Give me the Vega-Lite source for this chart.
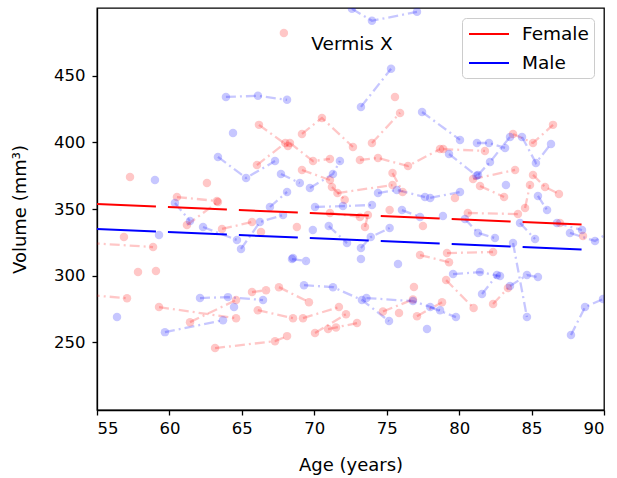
{
  "$schema": "https://vega.github.io/schema/vega-lite/v6.json",
  "width": 507,
  "height": 402,
  "autosize": {"type": "none"},
  "padding": {"left": 97, "top": 8, "right": 13, "bottom": 68},
  "background": "white",
  "config": {
    "view": {"stroke": "black", "strokeWidth": 1.3},
    "font": "DejaVu Sans",
    "axis": {
      "grid": false,
      "domainColor": "black",
      "domainWidth": 1.3,
      "tickColor": "black",
      "tickWidth": 1.3,
      "tickSize": 5,
      "labelColor": "black",
      "labelFont": "DejaVu Sans",
      "labelFontSize": 16.5,
      "titleFont": "DejaVu Sans",
      "titleFontSize": 18,
      "titleFontWeight": "normal",
      "titleColor": "black"
    },
    "legend": {
      "orient": "none",
      "legendX": 365,
      "legendY": 10,
      "symbolType": "M-2,0L2,0",
      "symbolSize": 400,
      "symbolOffset": 11,
      "symbolStrokeWidth": 2,
      "labelFont": "DejaVu Sans",
      "labelFontSize": 18.5,
      "labelColor": "black",
      "labelOffset": 22,
      "rowPadding": 8,
      "padding": 5,
      "strokeColor": "#cccccc",
      "fillColor": "white",
      "cornerRadius": 4
    }
  },
  "data": {
    "values": [
      {"id": "F1", "sex": "Female", "age": 54.5, "vol": 324.4}, {"id": "F1", "sex": "Female", "age": 58.87, "vol": 321.4},
      {"id": "F2", "sex": "Female", "age": 54.5, "vol": 285.3}, {"id": "F2", "sex": "Female", "age": 57.07, "vol": 283},
      {"id": "F3", "sex": "Female", "age": 56.86, "vol": 329},
      {"id": "F4", "sex": "Female", "age": 57.28, "vol": 374},
      {"id": "F5", "sex": "Female", "age": 57.83, "vol": 302.6},
      {"id": "F6", "sex": "Female", "age": 59.07, "vol": 303.4},
      {"id": "F7", "sex": "Female", "age": 59.28, "vol": 276.3}, {"id": "F7", "sex": "Female", "age": 64.6, "vol": 268},
      {"id": "F8", "sex": "Female", "age": 61.42, "vol": 265}, {"id": "F8", "sex": "Female", "age": 64.6, "vol": 281.6},
      {"id": "F9", "sex": "Female", "age": 63.15, "vol": 245.5}, {"id": "F9", "sex": "Female", "age": 67.29, "vol": 250.7}, {"id": "F9", "sex": "Female", "age": 68.12, "vol": 254.5},
      {"id": "F12", "sex": "Female", "age": 65.7, "vol": 287.6}, {"id": "F12", "sex": "Female", "age": 66.67, "vol": 289},
      {"id": "F13", "sex": "Female", "age": 67.56, "vol": 291.3}, {"id": "F13", "sex": "Female", "age": 69.63, "vol": 280},
      {"id": "F14", "sex": "Female", "age": 66.1, "vol": 274}, {"id": "F14", "sex": "Female", "age": 68.53, "vol": 268},
      {"id": "F15", "sex": "Female", "age": 69.22, "vol": 268}, {"id": "F15", "sex": "Female", "age": 71.7, "vol": 276.3},
      {"id": "F16", "sex": "Female", "age": 70.05, "vol": 256.8}, {"id": "F16", "sex": "Female", "age": 72.19, "vol": 271},
      {"id": "F17", "sex": "Female", "age": 70.95, "vol": 259.8}, {"id": "F17", "sex": "Female", "age": 72.95, "vol": 264.3},
      {"id": "F18", "sex": "Female", "age": 71.5, "vol": 261},
      {"id": "F20", "sex": "Female", "age": 60.52, "vol": 359}, {"id": "F20", "sex": "Female", "age": 63.28, "vol": 356},
      {"id": "F21", "sex": "Female", "age": 62.59, "vol": 369.5},
      {"id": "F22", "sex": "Female", "age": 61.21, "vol": 338}, {"id": "F22", "sex": "Female", "age": 63.35, "vol": 355.3},
      {"id": "F23", "sex": "Female", "age": 63.63, "vol": 335}, {"id": "F23", "sex": "Female", "age": 65.7, "vol": 340.2},
      {"id": "F24", "sex": "Female", "age": 66.32, "vol": 332.7},
      {"id": "F25", "sex": "Female", "age": 66.04, "vol": 383}, {"id": "F25", "sex": "Female", "age": 68.0, "vol": 399.6},
      {"id": "F26", "sex": "Female", "age": 66.18, "vol": 413.2}, {"id": "F26", "sex": "Female", "age": 68.18, "vol": 397.4},
      {"id": "F27", "sex": "Female", "age": 69.15, "vol": 406.4}, {"id": "F27", "sex": "Female", "age": 70.53, "vol": 418.4}, {"id": "F27", "sex": "Female", "age": 72.67, "vol": 396.6},
      {"id": "F28", "sex": "Female", "age": 68.32, "vol": 399.6}, {"id": "F28", "sex": "Female", "age": 69.91, "vol": 386}, {"id": "F28", "sex": "Female", "age": 71.08, "vol": 387.6},
      {"id": "F29", "sex": "Female", "age": 73.15, "vol": 386.8}, {"id": "F29", "sex": "Female", "age": 74.4, "vol": 388.3}, {"id": "F29", "sex": "Female", "age": 76.47, "vol": 382.3}, {"id": "F29", "sex": "Female", "age": 78.68, "vol": 395},
      {"id": "F30", "sex": "Female", "age": 73.98, "vol": 399.6}, {"id": "F30", "sex": "Female", "age": 75.92, "vol": 422.2},
      {"id": "F31", "sex": "Female", "age": 75.57, "vol": 434.2},
      {"id": "F32", "sex": "Female", "age": 67.9, "vol": 482.3},
      {"id": "F33", "sex": "Female", "age": 68.8, "vol": 336.5},
      {"id": "F34", "sex": "Female", "age": 78.9, "vol": 395}, {"id": "F34", "sex": "Female", "age": 81.78, "vol": 393.6},
      {"id": "F35", "sex": "Female", "age": 80.96, "vol": 372.5}, {"id": "F35", "sex": "Female", "age": 83.86, "vol": 379.3},
      {"id": "F36", "sex": "Female", "age": 83.72, "vol": 406.4}, {"id": "F36", "sex": "Female", "age": 85.1, "vol": 399.6}, {"id": "F36", "sex": "Female", "age": 86.48, "vol": 413.2},
      {"id": "F37", "sex": "Female", "age": 85.1, "vol": 375.6}, {"id": "F37", "sex": "Female", "age": 85.93, "vol": 366.5}, {"id": "F37", "sex": "Female", "age": 86.89, "vol": 361.3},
      {"id": "F38", "sex": "Female", "age": 81.44, "vol": 367.3}, {"id": "F38", "sex": "Female", "age": 83.1, "vol": 359},
      {"id": "F39", "sex": "Female", "age": 79.71, "vol": 358.3},
      {"id": "F40", "sex": "Female", "age": 84.55, "vol": 350.7}, {"id": "F40", "sex": "Female", "age": 84.89, "vol": 368},
      {"id": "F41", "sex": "Female", "age": 80.6, "vol": 347}, {"id": "F41", "sex": "Female", "age": 84.06, "vol": 346.2},
      {"id": "F41b", "sex": "Female", "age": 86.96, "vol": 339.5},
      {"id": "F42", "sex": "Female", "age": 79.16, "vol": 316.9}, {"id": "F42", "sex": "Female", "age": 82.34, "vol": 317.7},
      {"id": "F43", "sex": "Female", "age": 77.3, "vol": 315.4}, {"id": "F43", "sex": "Female", "age": 79.3, "vol": 310},
      {"id": "F44", "sex": "Female", "age": 76.88, "vol": 291.4},
      {"id": "F45", "sex": "Female", "age": 74.74, "vol": 273}, {"id": "F45", "sex": "Female", "age": 76.81, "vol": 282},
      {"id": "F46", "sex": "Female", "age": 75.85, "vol": 271.8},
      {"id": "F47", "sex": "Female", "age": 77.09, "vol": 269.5}, {"id": "F47", "sex": "Female", "age": 78.82, "vol": 280},
      {"id": "F48", "sex": "Female", "age": 79.1, "vol": 296.6}, {"id": "F48", "sex": "Female", "age": 81.0, "vol": 275.6},
      {"id": "F49", "sex": "Female", "age": 82.34, "vol": 278.6}, {"id": "F49", "sex": "Female", "age": 83.37, "vol": 290.6},
      {"id": "F50", "sex": "Female", "age": 88.55, "vol": 329.7},
      {"id": "F51", "sex": "Female", "age": 77.5, "vol": 337.2},
      {"id": "F52", "sex": "Female", "age": 73.5, "vol": 336.5}, {"id": "F52", "sex": "Female", "age": 73.7, "vol": 345.5},
      {"id": "F53", "sex": "Female", "age": 71.6, "vol": 362}, {"id": "F53", "sex": "Female", "age": 75.4, "vol": 368},
      {"id": "F54", "sex": "Female", "age": 75.4, "vol": 377}, {"id": "F54", "sex": "Female", "age": 76.1, "vol": 362.8},
      {"id": "F55", "sex": "Female", "age": 69.15, "vol": 379.3}, {"id": "F55", "sex": "Female", "age": 71.08, "vol": 371.8},
      {"id": "F56", "sex": "Female", "age": 71.22, "vol": 366.5}, {"id": "F56", "sex": "Female", "age": 72.1, "vol": 357},
      {"id": "F57", "sex": "Female", "age": 71.08, "vol": 347}, {"id": "F57", "sex": "Female", "age": 73.15, "vol": 344},
      {"id": "F58", "sex": "Female", "age": 75.2, "vol": 349.2},

      {"id": "M1", "sex": "Male", "age": 72.6, "vol": 500.4}, {"id": "M1", "sex": "Male", "age": 73.98, "vol": 491.4}, {"id": "M1", "sex": "Male", "age": 77.09, "vol": 498.1},
      {"id": "M2", "sex": "Male", "age": 73.22, "vol": 426.7}, {"id": "M2", "sex": "Male", "age": 75.3, "vol": 455.3},
      {"id": "M3", "sex": "Male", "age": 63.9, "vol": 434.2}, {"id": "M3", "sex": "Male", "age": 66.11, "vol": 435}, {"id": "M3", "sex": "Male", "age": 68.12, "vol": 432},
      {"id": "M4", "sex": "Male", "age": 64.39, "vol": 407.1},
      {"id": "M5", "sex": "Male", "age": 63.35, "vol": 389.1}, {"id": "M5", "sex": "Male", "age": 65.29, "vol": 373.3}, {"id": "M5", "sex": "Male", "age": 67.29, "vol": 386},
      {"id": "M6", "sex": "Male", "age": 67.7, "vol": 376.3}, {"id": "M6", "sex": "Male", "age": 69.0, "vol": 369.5},
      {"id": "M7", "sex": "Male", "age": 66.94, "vol": 351.5}, {"id": "M7", "sex": "Male", "age": 68.12, "vol": 362.8},
      {"id": "M8", "sex": "Male", "age": 59.0, "vol": 371.8},
      {"id": "M9", "sex": "Male", "age": 59.28, "vol": 330.4},
      {"id": "M10", "sex": "Male", "age": 60.38, "vol": 354.5}, {"id": "M10", "sex": "Male", "age": 61.42, "vol": 341},
      {"id": "M11", "sex": "Male", "age": 62.32, "vol": 336.5}, {"id": "M11", "sex": "Male", "age": 64.66, "vol": 326.7},
      {"id": "M12", "sex": "Male", "age": 64.94, "vol": 320}, {"id": "M12", "sex": "Male", "age": 66.25, "vol": 340.2}, {"id": "M12", "sex": "Male", "age": 67.84, "vol": 345.5},
      {"id": "M13", "sex": "Male", "age": 68.53, "vol": 313.2},
      {"id": "M14", "sex": "Male", "age": 56.38, "vol": 268.8},
      {"id": "M15", "sex": "Male", "age": 59.69, "vol": 257.5}, {"id": "M15", "sex": "Male", "age": 63.7, "vol": 266.5},
      {"id": "M16", "sex": "Male", "age": 62.11, "vol": 283.1}, {"id": "M16", "sex": "Male", "age": 64.04, "vol": 283.8}, {"id": "M16", "sex": "Male", "age": 66.46, "vol": 281.6},
      {"id": "M17", "sex": "Male", "age": 64.46, "vol": 276.3},
      {"id": "M18", "sex": "Male", "age": 68.46, "vol": 312.4}, {"id": "M18", "sex": "Male", "age": 69.43, "vol": 310.9},
      {"id": "M19", "sex": "Male", "age": 73.22, "vol": 312.4},
      {"id": "M20", "sex": "Male", "age": 75.78, "vol": 308.6},
      {"id": "M21", "sex": "Male", "age": 69.29, "vol": 292.8}, {"id": "M21", "sex": "Male", "age": 71.29, "vol": 291.3}, {"id": "M21", "sex": "Male", "age": 73.29, "vol": 281.6}, {"id": "M21", "sex": "Male", "age": 75.16, "vol": 265.8},
      {"id": "M22", "sex": "Male", "age": 73.6, "vol": 283.1}, {"id": "M22", "sex": "Male", "age": 76.81, "vol": 280.8}, {"id": "M22", "sex": "Male", "age": 78.68, "vol": 274},
      {"id": "M23", "sex": "Male", "age": 77.78, "vol": 259.8},
      {"id": "M24", "sex": "Male", "age": 78.0, "vol": 276.3}, {"id": "M24", "sex": "Male", "age": 79.78, "vol": 268.8},
      {"id": "M25", "sex": "Male", "age": 81.58, "vol": 286.1}, {"id": "M25", "sex": "Male", "age": 82.61, "vol": 300.4},
      {"id": "M26", "sex": "Male", "age": 79.58, "vol": 301.1}, {"id": "M26", "sex": "Male", "age": 81.44, "vol": 302.6}, {"id": "M26", "sex": "Male", "age": 82.82, "vol": 299.6},
      {"id": "M27", "sex": "Male", "age": 83.51, "vol": 292.1}, {"id": "M27", "sex": "Male", "age": 84.68, "vol": 300.4}, {"id": "M27", "sex": "Male", "age": 85.44, "vol": 298.9},
      {"id": "M28", "sex": "Male", "age": 83.72, "vol": 324.4}, {"id": "M28", "sex": "Male", "age": 84.68, "vol": 268.8},
      {"id": "M29", "sex": "Male", "age": 87.72, "vol": 255.3}, {"id": "M29", "sex": "Male", "age": 88.69, "vol": 276.3}, {"id": "M29", "sex": "Male", "age": 89.93, "vol": 282.3},
      {"id": "M30", "sex": "Male", "age": 77.44, "vol": 422.9}, {"id": "M30", "sex": "Male", "age": 80.06, "vol": 401.9},
      {"id": "M31", "sex": "Male", "age": 81.23, "vol": 399.6}, {"id": "M31", "sex": "Male", "age": 82.06, "vol": 399.6}, {"id": "M31", "sex": "Male", "age": 83.17, "vol": 395.9},
      {"id": "M32", "sex": "Male", "age": 81.3, "vol": 375.6}, {"id": "M32", "sex": "Male", "age": 82.13, "vol": 385.3}, {"id": "M32", "sex": "Male", "age": 83.51, "vol": 404.1},
      {"id": "M33", "sex": "Male", "age": 79.3, "vol": 391.3}, {"id": "M33", "sex": "Male", "age": 81.2, "vol": 375.0},
      {"id": "M34", "sex": "Male", "age": 84.34, "vol": 404.1}, {"id": "M34", "sex": "Male", "age": 85.3, "vol": 384.6}, {"id": "M34", "sex": "Male", "age": 86.34, "vol": 398.9},
      {"id": "M35", "sex": "Male", "age": 83.23, "vol": 368},
      {"id": "M36", "sex": "Male", "age": 78.0, "vol": 358.3}, {"id": "M36", "sex": "Male", "age": 80.06, "vol": 362.8},
      {"id": "M37", "sex": "Male", "age": 85.44, "vol": 359.8}, {"id": "M37", "sex": "Male", "age": 86.07, "vol": 349.2},
      {"id": "M38", "sex": "Male", "age": 78.88, "vol": 344.7},
      {"id": "M39", "sex": "Male", "age": 80.4, "vol": 342.5}, {"id": "M39", "sex": "Male", "age": 81.3, "vol": 332}, {"id": "M39", "sex": "Male", "age": 82.47, "vol": 328.2},
      {"id": "M40", "sex": "Male", "age": 84.2, "vol": 339.5}, {"id": "M40", "sex": "Male", "age": 85.24, "vol": 327.4},
      {"id": "M41", "sex": "Male", "age": 86.75, "vol": 339.5}, {"id": "M41", "sex": "Male", "age": 88.48, "vol": 334.2},
      {"id": "M42", "sex": "Male", "age": 87.65, "vol": 332}, {"id": "M42", "sex": "Male", "age": 89.38, "vol": 326}, {"id": "M42", "sex": "Male", "age": 90.6, "vol": 334},
      {"id": "M44", "sex": "Male", "age": 70.05, "vol": 351.5}, {"id": "M44", "sex": "Male", "age": 71.98, "vol": 352.2}, {"id": "M44", "sex": "Male", "age": 73.98, "vol": 353},
      {"id": "M45", "sex": "Male", "age": 71.0, "vol": 337.2}, {"id": "M45", "sex": "Male", "age": 72.26, "vol": 324.4},
      {"id": "M46", "sex": "Male", "age": 73.22, "vol": 320.7}, {"id": "M46", "sex": "Male", "age": 73.9, "vol": 328.9}, {"id": "M46", "sex": "Male", "age": 75.2, "vol": 335.7},
      {"id": "M48", "sex": "Male", "age": 69.7, "vol": 365.8}, {"id": "M48", "sex": "Male", "age": 71.29, "vol": 376.3}, {"id": "M48", "sex": "Male", "age": 71.77, "vol": 386},
      {"id": "M49", "sex": "Male", "age": 74.4, "vol": 362}, {"id": "M49", "sex": "Male", "age": 75.7, "vol": 364.3}, {"id": "M49", "sex": "Male", "age": 77.64, "vol": 359},
      {"id": "M51", "sex": "Male", "age": 76.05, "vol": 349.2}, {"id": "M51", "sex": "Male", "age": 77.3, "vol": 344},
      {"id": "M52", "sex": "Male", "age": 69.9, "vol": 334.2}
    ]
  },
  "encoding": {
    "x": {
      "field": "age", "type": "quantitative",
      "scale": {"domain": [55, 90], "nice": false, "zero": false},
      "axis": {"values": [55, 60, 65, 70, 75, 80, 85, 90], "title": "Age (years)", "titlePadding": 20, "labelPadding": 5}
    },
    "y": {
      "field": "vol", "type": "quantitative",
      "scale": {"domain": [199, 501], "nice": false, "zero": false},
      "axis": {"values": [250, 300, 350, 400, 450], "title": "Volume (mm³)", "titlePadding": 24, "labelPadding": 7}
    },
    "color": {
      "field": "sex", "type": "nominal",
      "scale": {"domain": ["Female", "Male"], "range": ["#ff0000", "#0000ff"]},
      "legend": {
        "title": null,
        "encode": {
          "symbols": {
            "update": {
              "stroke": {"scale": "color", "field": "value"},
              "opacity": {"value": 1},
              "strokeOpacity": {"value": 1},
              "fillOpacity": {"value": 0},
              "strokeDash": {"value": [1, 0]},
              "strokeWidth": {"value": 2}
            }
          }
        }
      }
    }
  },
  "layer": [
    {
      "mark": {"type": "line", "clip": true, "strokeWidth": 2.3, "opacity": 0.22, "strokeDash": [10, 4, 2, 4]},
      "encoding": {
        "detail": {"field": "id"}
      }
    },
    {
      "mark": {"type": "circle", "clip": true, "size": 72, "opacity": 0.22}
    },
    {
      "data": {
        "values": [
          {"sex": "Female", "age": 55, "vol": 353.7},
          {"sex": "Female", "age": 89.17, "vol": 338.0},
          {"sex": "Male", "age": 55, "vol": 334.9},
          {"sex": "Male", "age": 89.17, "vol": 319.2}
        ]
      },
      "mark": {"type": "line", "strokeWidth": 2, "strokeDash": [59, 12]}
    },
    {
      "data": {"values": [{"label": "Vermis X", "age": 72.6, "vol": 474}]},
      "mark": {"type": "text", "fontSize": 18.5, "font": "DejaVu Sans", "fill": "black", "align": "center", "baseline": "middle"},
      "encoding": {
        "text": {"field": "label"},
        "color": {"value": "black"}
      }
    }
  ]
}
